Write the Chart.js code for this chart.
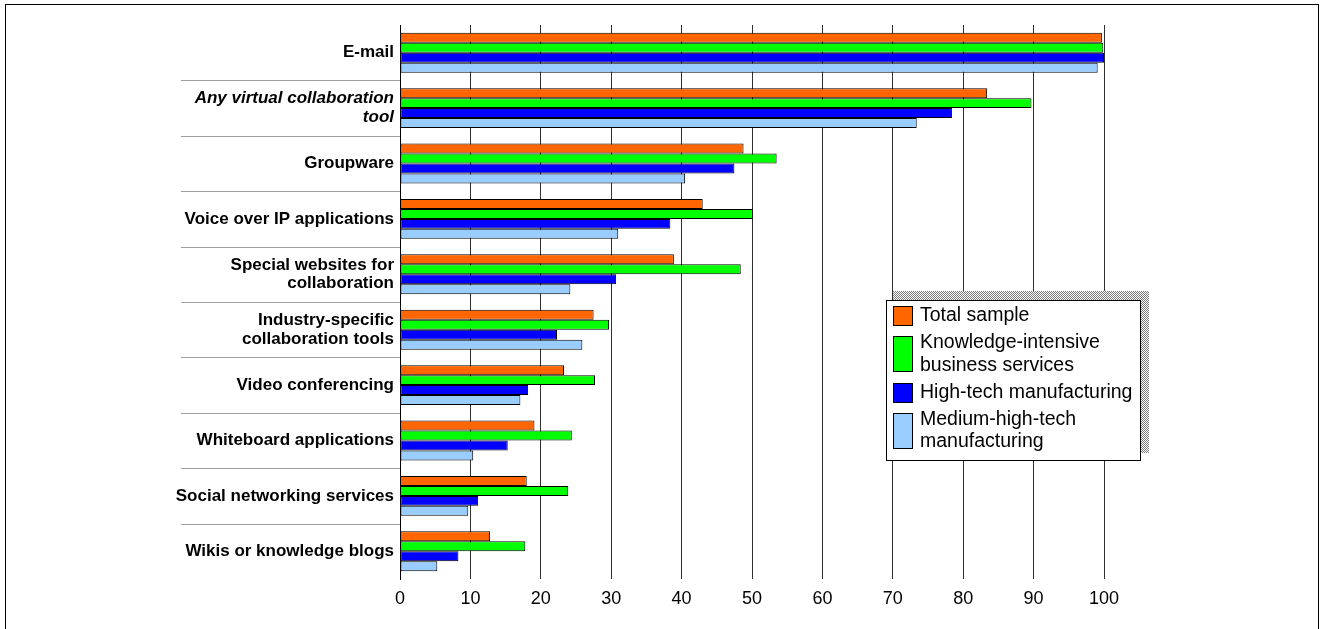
<!DOCTYPE html>
<html lang="en">
<head>
    <meta charset="UTF-8">
    <title>Use of virtual collaboration tools</title>
    <script src="https://cdn.jsdelivr.net/npm/chart.js"></script>
    <style>
        body { margin: 0; background: #fff; overflow: hidden; }
        #wrap { position: relative; width: 1321px; height: 629px; }
    </style>
</head>
<body>
    <div id="wrap"><canvas id="toolsChart"></canvas></div>

    <script>
        // categories (top to bottom)
        var categories = [
            'E-mail',
            ['Any virtual collaboration', 'tool'],
            'Groupware',
            'Voice over IP applications',
            ['Special websites for', 'collaboration'],
            ['Industry-specific', 'collaboration tools'],
            'Video conferencing',
            'Whiteboard applications',
            'Social networking services',
            'Wikis or knowledge blogs'
        ];

        // series values, % of firms
        var totalSample  = [99.7, 83.4, 48.8, 43.0, 38.9, 27.5, 23.3, 19.1, 18.0, 12.8];
        var kibs         = [99.9, 89.7, 53.5, 50.1, 48.4, 29.7, 27.7, 24.4, 23.9, 17.8];
        var highTech     = [100, 78.4, 47.5, 38.4, 30.7, 22.3, 18.2, 15.3, 11.1, 8.3];
        var medHighTech  = [99.1, 73.4, 40.5, 31.0, 24.2, 25.9, 17.1, 10.4, 9.7, 5.3];

        var seriesNames = [
            ['Total sample'],
            ['Knowledge-intensive', 'business services'],
            ['High-tech manufacturing'],
            ['Medium-high-tech', 'manufacturing']
        ];
        var seriesColors = ['#FF6600', '#00FF00', '#0000FF', '#99CCFF'];

        var xTicks = [0, 10, 20, 30, 40, 50, 60, 70, 80, 90, 100];

        var FONT = '"Liberation Sans", Arial, sans-serif';

        // outer frame + row separators in the label area
        var framePlugin = {
            id: 'frame',
            beforeDraw: function(chart) {
                var c = chart.ctx;
                c.save();
                c.fillStyle = '#fff';
                c.fillRect(0, 0, chart.width, chart.height);
                c.strokeStyle = '#000';
                c.lineWidth = 1;
                c.strokeRect(5.5, 4.5, 1313, 700);
                c.restore();
            },
            afterDraw: function(chart) {
                var y = chart.scales.y, c = chart.ctx;
                c.save();
                c.strokeStyle = '#a0a0a0';
                c.lineWidth = 1;
                for (var i = 1; i < categories.length; i++) {
                    var py = Math.round(y.getPixelForValue(i - 0.5)) + 0.5;
                    c.beginPath();
                    c.moveTo(181, py);
                    c.lineTo(chart.chartArea.left, py);
                    c.stroke();
                }
                c.restore();
            }
        };

        // legend box with the hatched shadow
        var legendBox = {
            id: 'legendBox',
            afterDraw: function(chart) {
                var c = chart.ctx;
                var pat = document.createElement('canvas');
                pat.width = 2; pat.height = 2;
                var pc = pat.getContext('2d');
                pc.fillStyle = '#fff'; pc.fillRect(0, 0, 2, 2);
                pc.fillStyle = '#7a7a7a'; pc.fillRect(0, 0, 1, 1); pc.fillRect(1, 1, 1, 1);

                c.save();
                c.fillStyle = c.createPattern(pat, 'repeat');
                c.fillRect(893, 291, 256, 162);
                c.fillStyle = '#fff';
                c.fillRect(886, 300, 255, 161);
                c.strokeStyle = '#000';
                c.lineWidth = 1;
                c.strokeRect(886.5, 300.5, 254, 160);

                c.font = '19.5px ' + FONT;
                c.textBaseline = 'middle';
                c.textAlign = 'left';
                var yLine = 316;
                chart.data.datasets.forEach(function(ds, i) {
                    var lines = seriesNames[i];
                    var first = yLine, last = yLine + (lines.length - 1) * 22.5;
                    var h = 20 + (lines.length - 1) * 16;
                    var mid = (first + last) / 2;
                    c.fillStyle = ds.backgroundColor;
                    c.fillRect(893, Math.round(mid - h / 2), 20, h);
                    c.strokeStyle = '#000';
                    c.strokeRect(893.5, Math.round(mid - h / 2) + 0.5, 19, h - 1);
                    c.fillStyle = '#000';
                    lines.forEach(function(t, k) {
                        c.fillText(t, 920, first + k * 22.5);
                    });
                    yLine = last + 27;
                });
                c.restore();
            }
        };

        var datasets = [totalSample, kibs, highTech, medHighTech].map(function(vals, i) {
            return {
                label: seriesNames[i].join(' '),
                data: vals,
                backgroundColor: seriesColors[i],
                borderColor: '#000',
                borderWidth: 1,
                borderSkipped: false,
                categoryPercentage: 0.72,
                barPercentage: 1.0
            };
        });

        new Chart(document.getElementById('toolsChart'), {
            type: 'bar',
            data: { labels: categories, datasets: datasets },
            plugins: [framePlugin, legendBox],
            options: {
                indexAxis: 'y',
                responsive: true,
                maintainAspectRatio: false,
                animation: false,
                layout: { padding: { left: 0, right: 217, top: 25, bottom: 0 } },
                plugins: { legend: { display: false }, tooltip: { enabled: false } },
                scales: {
                    x: {
                        min: 0, max: 100,
                        afterBuildTicks: function(scale) {
                            scale.ticks = xTicks.map(function(v) { return { value: v }; });
                        },
                        afterFit: function(scale) { scale.height = 50; },
                        grid: { color: '#303030', lineWidth: 1, drawTicks: false },
                        border: { display: false },
                        ticks: { color: '#000', padding: 9, font: { family: FONT, size: 18 } }
                    },
                    y: {
                        afterFit: function(scale) { scale.width = 400; },
                        grid: { display: false, drawTicks: false },
                        border: { display: true, color: '#000', width: 1 },
                        ticks: {
                            color: '#000',
                            padding: 6,
                            font: function(ctx) {
                                return { family: FONT, size: 17, weight: 'bold', lineHeight: 1.1,
                                         style: ctx.index === 1 ? 'italic' : 'normal' };
                            }
                        }
                    }
                }
            }
        });
    </script>
</body>
</html>
